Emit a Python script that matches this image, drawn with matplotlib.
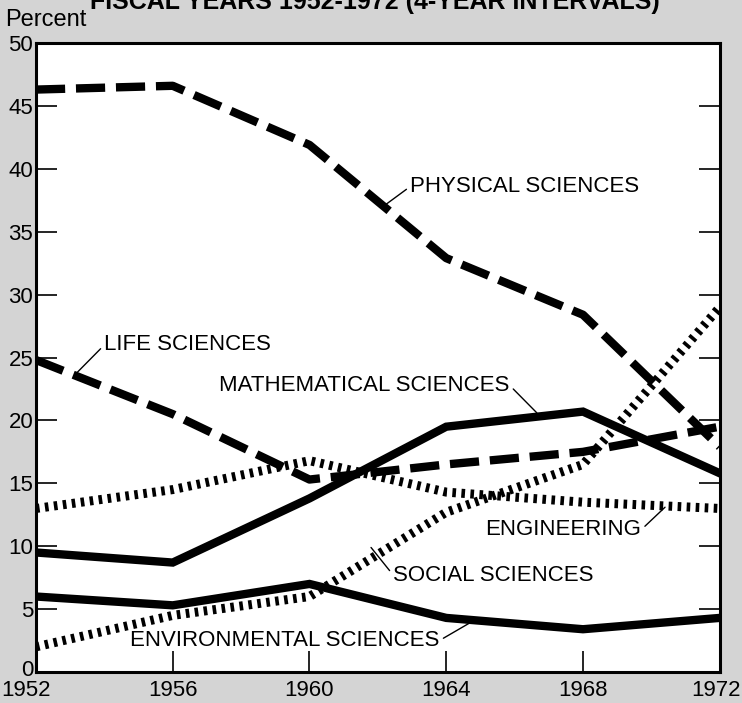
import matplotlib
matplotlib.use("Agg")
import matplotlib.pyplot as plt
from matplotlib.transforms import ScaledTranslation

plt.rcParams['font.family'] = ['Liberation Sans', 'DejaVu Sans']

years = [1952, 1956, 1960, 1964, 1968, 1972]

physical = [46.3, 46.6, 41.9, 32.9, 28.4, 17.9]
life = [24.8, 20.5, 15.3, 16.5, 17.5, 19.5]
mathematical = [9.5, 8.7, 13.8, 19.5, 20.7, 15.8]
engineering = [13.0, 14.5, 16.8, 14.3, 13.5, 13.0]
social = [2.0, 4.5, 6.0, 12.7, 16.5, 29.0]
environmental = [6.0, 5.3, 7.0, 4.3, 3.4, 4.3]

y_ticks = [0, 5, 10, 15, 20, 25, 30, 35, 40, 45, 50]

dashed = (0, (3.5, 1.3))
dotted = (0, (0.4, 0.6))

fig = plt.figure(figsize=(7.42, 7.03), dpi=100, facecolor='#d4d4d4')
ax = fig.add_axes([0.0485, 0.0441, 0.9215, 0.8947])
ax.set_facecolor('white')

ax.plot(years, physical, color='black', lw=6, linestyle=dashed, dash_capstyle='butt')
ax.plot(years, life, color='black', lw=6, linestyle=dashed, dash_capstyle='butt')
ax.plot(years, mathematical, color='black', lw=6, solid_joinstyle='miter')
ax.plot(years, engineering, color='black', lw=6.5, linestyle=dotted, dash_capstyle='butt')
ax.plot(years, social, color='black', lw=6.5, linestyle=dotted, dash_capstyle='butt')
ax.plot(years, environmental, color='black', lw=6, solid_joinstyle='miter')

ax.set_xlim(1952, 1972)
ax.set_ylim(0, 50)
ax.set_xticks(years)
ax.set_yticks(y_ticks)
ax.tick_params(axis='y', direction='in', length=15, width=1.2, labelsize=16, pad=2,
               right=True)
ax.tick_params(axis='x', direction='in', length=15, width=1.2, labelsize=16, pad=6)
for side in ax.spines.values():
    side.set_linewidth(2.2)

# nudge the corner labels so they stay inside the figure and apart
xlabels = ax.get_xticklabels()
xlabels[0].set_transform(xlabels[0].get_transform()
                         + ScaledTranslation(-0.1, 0, fig.dpi_scale_trans))
xlabels[-1].set_transform(xlabels[-1].get_transform()
                          + ScaledTranslation(-0.04, 0, fig.dpi_scale_trans))
ylabels = ax.get_yticklabels()
ylabels[0].set_transform(ylabels[0].get_transform()
                         + ScaledTranslation(0, 0.04, fig.dpi_scale_trans))

# leader-line labels for each series
labels = [
    ("PHYSICAL SCIENCES", (1962.2, 37.1), (1962.95, 38.6), (0, 0.5)),
    ("LIFE SCIENCES", (1953.2, 23.8), (1954.0, 26.0), (0, 0.5)),
    ("MATHEMATICAL SCIENCES", (1966.65, 20.6), (1965.85, 22.8), (1, 0.5)),
    ("ENGINEERING", (1970.4, 13.1), (1969.7, 11.3), (1, 0.5)),
    ("SOCIAL SCIENCES", (1961.8, 9.9), (1962.45, 7.7), (0, 0.5)),
    ("ENVIRONMENTAL SCIENCES", (1964.75, 4.0), (1963.8, 2.5), (1, 0.5)),
]
for text, xy, xytext, relpos in labels:
    ax.annotate(text, xy=xy, xytext=xytext, fontsize=16,
                ha='left' if relpos[0] == 0 else 'right', va='center',
                arrowprops=dict(arrowstyle='-', lw=1, color='black',
                                relpos=relpos, shrinkA=1, shrinkB=0))

fig.text(0.505, 0.997, "FISCAL YEARS 1952-1972 (4-YEAR INTERVALS)", ha='center',
         va='center', fontsize=18, fontweight='bold')
fig.text(0.007, 0.972, "Percent", ha='left', va='center', fontsize=17)

fig.savefig("out.png", dpi=100, facecolor=fig.get_facecolor())
